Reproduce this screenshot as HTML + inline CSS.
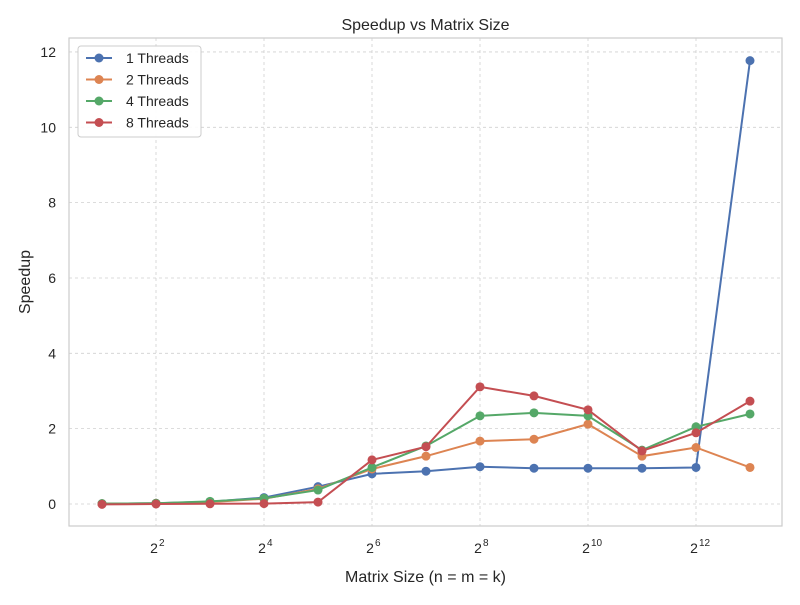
<!DOCTYPE html>
<html><head><meta charset="utf-8"><style>
body{margin:0;background:#fff;font-family:"Liberation Sans","DejaVu Sans",sans-serif}
</style></head><body>
<svg id="chart" width="800" height="600" xmlns="http://www.w3.org/2000/svg" font-family="Liberation Sans, DejaVu Sans, sans-serif">
<rect width="800" height="600" fill="#fff"/>
<g id="grid"></g>
<rect x="69" y="38" width="713" height="488" fill="none" stroke="#cccccc" stroke-width="1.2"/>
<g id="axes"></g>
<g id="series"></g>
<text x="425.5" y="30" text-anchor="middle" font-size="16" fill="#262626">Speedup vs Matrix Size</text>
<text x="425.5" y="582" text-anchor="middle" font-size="16" fill="#262626">Matrix Size (n = m = k)</text>
<text transform="translate(30,282) rotate(-90)" text-anchor="middle" font-size="16" fill="#262626">Speedup</text>
<g id="legend"></g>
</svg>
<script>
const exponents = [1,2,3,4,5,6,7,8,9,10,11,12,13];
const seriesNames = ["1 Threads","2 Threads","4 Threads","8 Threads"];
const t1 = [0.01,0.02,0.06,0.17,0.46,0.8,0.87,0.99,0.95,0.95,0.95,0.97,11.77];
const t2 = [0.01,0.02,0.05,0.14,0.4,0.93,1.27,1.67,1.72,2.12,1.27,1.5,0.97];
const t4 = [0.01,0.02,0.07,0.15,0.37,0.97,1.54,2.34,2.42,2.34,1.43,2.05,2.39];
const t8 = [-0.01,0,0.005,0.01,0.05,1.17,1.52,3.11,2.87,2.5,1.41,1.89,2.73];
const colors = ["#4c72b0","#dd8452","#55a868","#c44e52"];
const yTicks = [0,2,4,6,8,10,12];
const xTicks = [2,4,6,8,10,12];
const NS="http://www.w3.org/2000/svg";
const xs = e => 102 + (e-1)*54;
const ys = v => 504 - v*37.67;
function mk(tag, attrs, parent){const el=document.createElementNS(NS,tag);for(const k in attrs)el.setAttribute(k,attrs[k]);parent.appendChild(el);return el;}
const grid=document.getElementById('grid'), axes=document.getElementById('axes'), ser=document.getElementById('series'), leg=document.getElementById('legend');
yTicks.forEach(v=>{
  const l=mk('line',{x1:69,x2:782,y1:ys(v),y2:ys(v),stroke:'#d0d0d0','stroke-dasharray':'3,3','stroke-width':0.8},grid);
  
  
  const t=mk('text',{x:56,y:ys(v)+5,'text-anchor':'end','font-size':14,fill:'#262626'},axes);
  t.textContent=v;
  
  
});
xTicks.forEach(e=>{
  const l=mk('line',{x1:xs(e),x2:xs(e),y1:38,y2:526,stroke:'#d0d0d0','stroke-dasharray':'3,3','stroke-width':0.8},grid);
  
  
  const t=mk('text',{x:xs(e)-2,y:553,'text-anchor':'middle','font-size':14,fill:'#262626'},axes);
  t.textContent='2';
  
  
  const s=mk('text',{x:xs(e)+3,y:546,'font-size':10,fill:'#262626'},axes);
  s.textContent=e;
  
  
});
[t1,t2,t4,t8].forEach((vals,i)=>{
  const g=mk('g',{},ser);
  
  
  const pts=vals.map((v,j)=>xs(exponents[j])+','+ys(v)).join(' ');
  const pl=mk('polyline',{points:pts,fill:'none',stroke:colors[i],'stroke-width':2},g);
  
  
  vals.forEach((v,j)=>{
    const c=mk('circle',{cx:xs(exponents[j]),cy:ys(v),r:4.5,fill:colors[i]},g);
    
    
  });
});
const box=mk('rect',{x:78,y:46,width:123,height:91,fill:'#fff','fill-opacity':0.9,stroke:'#cccccc',rx:3},leg);


seriesNames.forEach((n,i)=>{
  const y=58+i*21.5;
  const g=mk('g',{},leg);
  
  
  mk('line',{x1:86,x2:112,y1:y,y2:y,stroke:colors[i],'stroke-width':2},g);
  mk('circle',{cx:99,cy:y,r:4.5,fill:colors[i]},g);
  const t=mk('text',{x:126,y:y+5,'font-size':14,fill:'#262626'},g);
  t.textContent=n;
});
</script>
</body></html>
